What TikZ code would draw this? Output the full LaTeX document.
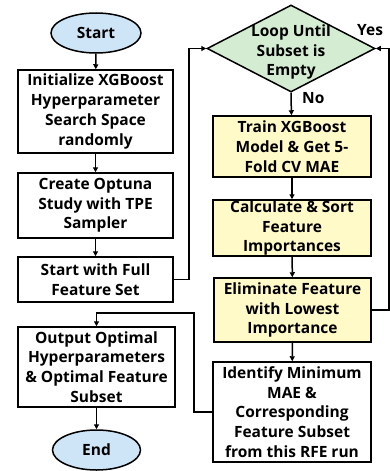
\documentclass[tikz,border=0pt]{standalone}
\usepackage{fontspec}
\setmainfont{Open Sans}
\usetikzlibrary{shapes.geometric,arrows.meta}
\definecolor{ellblue}{HTML}{CDE5F7}
\definecolor{diagreen}{HTML}{D4EDD2}
\definecolor{boxyel}{HTML}{FFFAC8}
\begin{document}
\begin{tikzpicture}[x=1pt,y=-1pt,
  txt/.style={font=\bfseries\fontsize{15.5}{19.7}\selectfont, align=center, inner sep=0pt},
  procbox/.style={txt, draw, line width=1.5pt, rectangle, minimum width=#1},
  procbox/.default=155pt,
  termnode/.style={txt, draw, line width=1.5pt, ellipse, fill=ellblue, minimum width=90pt, minimum height=40pt},
  conn/.style={line width=1.5pt},
  arr/.style={conn, -{Triangle[length=5pt,width=5pt]}},
  lbl/.style={font=\bfseries\fontsize{15.5}{17}\selectfont, inner sep=0pt}
]
\useasboundingbox (0,0) rectangle (390,471);
% left column
\node[termnode] (start) at (96,33) {Start};
\node[procbox, minimum height=83pt] (init) at (95.5,111.5) {Initialize XGBoost\\Hyperparameter\\Search Space\\randomly};
\node[procbox, minimum height=65pt] (optuna) at (95.5,205.5) {Create Optuna\\Study with TPE\\Sampler};
\node[procbox, minimum height=45pt] (full) at (95.5,279.5) {Start with Full\\Feature Set};
\node[procbox=157pt, minimum height=80pt] (output) at (96.5,367) {Output Optimal\\Hyperparameters\\\& Optimal Feature\\Subset};
\node[termnode, minimum width=88pt] (end) at (96.5,450) {End};
% right column
\node[diamond, draw, line width=1.5pt, fill=diagreen, minimum width=168pt, minimum height=87pt, inner sep=0pt] (dia) at (291,48.5) {};
\node[txt] (diatext) at (291,52) {Loop Until\\Subset is\\Empty};
\node[procbox=158pt, fill=boxyel, minimum height=61pt] (train) at (292,146.5) {Train XGBoost\\Model \& Get 5-\\Fold CV MAE};
\node[procbox=158pt, fill=boxyel, minimum height=56pt] (calc) at (292,228) {Calculate \& Sort\\Feature\\Importances};
\node[procbox=157pt, fill=boxyel, minimum height=64pt] (elim) at (292.5,310) {Eliminate Feature\\with Lowest\\Importance};
\node[procbox=158pt, minimum height=100pt] (ident) at (292,412) {Identify Minimum\\MAE \&\\Corresponding\\Feature Subset\\from this RFE run};
% labels
\node[lbl, anchor=west] (yes) at (357,30) {Yes};
\node[lbl, anchor=west] (no) at (302,98) {No};
% helper coordinates
\coordinate (c1) at (189,279.5);
\coordinate (c2) at (189,48.5);
\coordinate (c3) at (389,310);
\coordinate (c4) at (389,48.5);
\coordinate (c5) at (194,412);
\coordinate (c6) at (194,313);
\coordinate (c7) at (96.5,313);
% connectors
\draw[arr] (start) -- (init);
\draw[arr] (init) -- (optuna);
\draw[arr] (optuna) -- (full);
\draw[arr] (full.east) -- (c1) -- (c2) -- (dia.west);
\draw[arr] (dia.south) -- (train);
\draw[arr] (train) -- (calc);
\draw[arr] (calc) -- (elim);
\draw[arr] (elim) -- (ident);
\draw[arr] (elim.east) -- (c3) -- (c4) -- (dia.east);
\draw[arr] (ident.west) -- (c5) -- (c6) -- (c7) -- (output.north);
\draw[arr] (output) -- (end);
\end{tikzpicture}
\end{document}
